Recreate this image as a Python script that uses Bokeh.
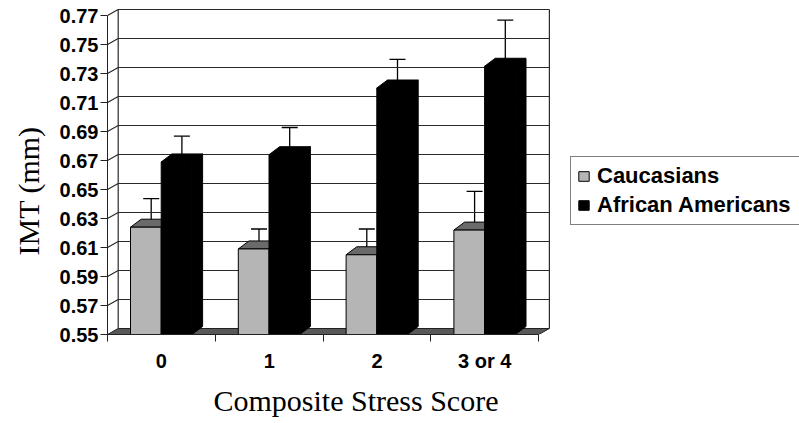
from bokeh.plotting import figure
from bokeh.models import (Range1d, FixedTicker, PrintfTickFormatter, Legend, LegendItem,
                          Title, Whisker, TeeHead, ColumnDataSource)
from bokeh.embed import file_html
from bokeh.resources import INLINE

# ---- data ----
categories = ["0", "1", "2", "3 or 4"]
caucasians = [0.624, 0.609, 0.605, 0.622]
caucasians_err = [0.017, 0.011, 0.015, 0.024]
african_americans = [0.669, 0.674, 0.720, 0.735]
african_americans_err = [0.015, 0.016, 0.017, 0.029]
y_ticks = [0.55, 0.57, 0.59, 0.61, 0.63, 0.65, 0.67, 0.69, 0.71, 0.73, 0.75, 0.77]

# ---- layout constants (pixels -> data units) ----
PX_X = 107.8           # px per category
PX_Y = 1450.0          # px per mm
DX = 10.7 / PX_X       # depth offset x
DY_WALL = 6.0 / PX_Y   # depth offset y for walls
DY_BAR = 8.0 / PX_Y    # depth offset y for bars
GAP = 23.0 / PX_X
BW = 30.7 / PX_X
Y0, Y1 = y_ticks[0], y_ticks[-1]
N = len(categories)

W, H = 799, 423
ML, MT = 107, 8
frame_h = 326
MB = H - MT - frame_h
frame_w = W - ML

p = figure(width=W, height=H, output_backend="svg", toolbar_location=None,
           x_range=Range1d(0, frame_w / PX_X), y_range=Range1d(Y0, Y0 + frame_h / PX_Y),
           min_border_left=ML, min_border_bottom=MB, min_border_top=MT, min_border_right=0)
p.outline_line_color = None
p.xgrid.visible = False
p.ygrid.visible = False
p.background_fill_color = "white"

# ---- floor ----
p.patch([0, N, N + DX, DX], [Y0, Y0, Y0 + DY_WALL, Y0 + DY_WALL],
        fill_color="#585858", line_color="#222222", line_width=1)

# ---- back wall gridlines (with slanted side-wall segment) ----
gx, gy = [], []
for v in y_ticks[1:]:
    gx.append([0, DX, N + DX])
    gy.append([v, v + DY_WALL, v + DY_WALL])
p.multi_line(gx, gy, line_color="#2a2a2a", line_width=1.2)
p.multi_line([[DX, DX], [N + DX, N + DX]],
             [[Y0 + DY_WALL, Y1 + DY_WALL], [Y0 + DY_WALL, Y1 + DY_WALL]],
             line_color="#2a2a2a", line_width=1.2)

# ---- bars ----
def bar_geom(offset, vals):
    left = [i + offset for i in range(N)]
    right = [l + BW for l in left]
    top_xs = [[l, r, r + DX, l + DX] for l, r in zip(left, right)]
    top_ys = [[v, v, v + DY_BAR, v + DY_BAR] for v in vals]
    side_xs = [[r, r + DX, r + DX, r] for r in right]
    side_ys = [[Y0, Y0 + DY_BAR, v + DY_BAR, v] for v in vals]
    return left, right, top_xs, top_ys, side_xs, side_ys

renderers = {}
for name, offset, vals, front, top, side in [
        ("Caucasians", GAP, caucasians, "#b5b5b5", "#6a6a6a", "#8a8a8a"),
        ("African Americans", GAP + BW, african_americans, "#000000", "#000000", "#000000")]:
    left, right, txs, tys, sxs, sys_ = bar_geom(offset, vals)
    p.patches(sxs, sys_, fill_color=side, line_color="black", line_width=1)
    p.patches(txs, tys, fill_color=top, line_color="black", line_width=1)
    renderers[name] = p.quad(left=left, right=right, bottom=[Y0] * N, top=vals,
                             fill_color=front, line_color="black", line_width=1)

# ---- error bars ----
for offset, vals, errs in [(GAP, caucasians, caucasians_err),
                           (GAP + BW, african_americans, african_americans_err)]:
    src = ColumnDataSource(dict(
        x=[i + offset + BW / 2 + DX / 2 for i in range(N)],
        lo=[v + DY_BAR / 2 for v in vals],
        hi=[v + e + DY_BAR / 2 for v, e in zip(vals, errs)]))
    p.add_layout(Whisker(source=src, base="x", lower="lo", upper="hi", dimension="height",
                         line_color="black", line_width=1.3, lower_head=None,
                         upper_head=TeeHead(size=16, line_color="black", line_width=1.3)))

# ---- axes ----
yax = p.yaxis[0]
yax.ticker = FixedTicker(ticks=y_ticks, minor_ticks=[])
yax.formatter = PrintfTickFormatter(format="%.2f")
yax.bounds = (Y0, Y1)
yax.major_tick_out = 7
yax.major_tick_in = 0
yax.minor_tick_out = 0
yax.minor_tick_in = 0
yax.major_label_standoff = 2
yax.axis_line_color = "#222222"
yax.major_tick_line_color = "#222222"
yax.major_label_text_font = "Liberation Sans"
yax.major_label_text_font_style = "bold"
yax.major_label_text_font_size = "20px"
yax.major_label_text_color = "black"

xax = p.xaxis[0]
xax.ticker = FixedTicker(ticks=[i + 0.5 for i in range(N)], minor_ticks=list(range(N + 1)))
xax.major_label_overrides = {i + 0.5: c for i, c in enumerate(categories)}
xax.bounds = (0, N)
xax.major_tick_out = 0
xax.major_tick_in = 0
xax.minor_tick_out = 7
xax.minor_tick_in = 0
xax.major_label_standoff = 8
xax.axis_line_color = "#222222"
xax.minor_tick_line_color = "#222222"
xax.major_label_text_font = "Liberation Sans"
xax.major_label_text_font_style = "bold"
xax.major_label_text_font_size = "20px"
xax.major_label_text_color = "black"

# ---- axis titles ----
p.add_layout(Title(text="IMT (mm)", align="left", offset=79, standoff=20, vertical_align="top",
                   text_font="Liberation Serif", text_font_size="30px",
                   text_font_style="normal", text_color="black"), "left")
p.add_layout(Title(text="Composite Stress Score", align="left", offset=106, standoff=14,
                   text_font="Liberation Serif", text_font_size="30px",
                   text_font_style="normal", text_color="black"), "below")

# ---- legend ----
legend = Legend(items=[LegendItem(label="Caucasians", renderers=[renderers["Caucasians"]]),
                       LegendItem(label="African Americans", renderers=[renderers["African Americans"]])],
                location=(463, 109), orientation="vertical",
                label_text_font="Liberation Sans", label_text_font_style="bold",
                label_text_font_size="22px", label_text_color="black",
                glyph_width=13, glyph_height=12, label_height=24, label_width=215, spacing=3,
                padding=6, margin=0, label_standoff=7,
                border_line_color="black", border_line_width=1,
                background_fill_color="white", background_fill_alpha=1.0)
p.add_layout(legend, "center")

open("out.html", "w").write(file_html(p, INLINE))
